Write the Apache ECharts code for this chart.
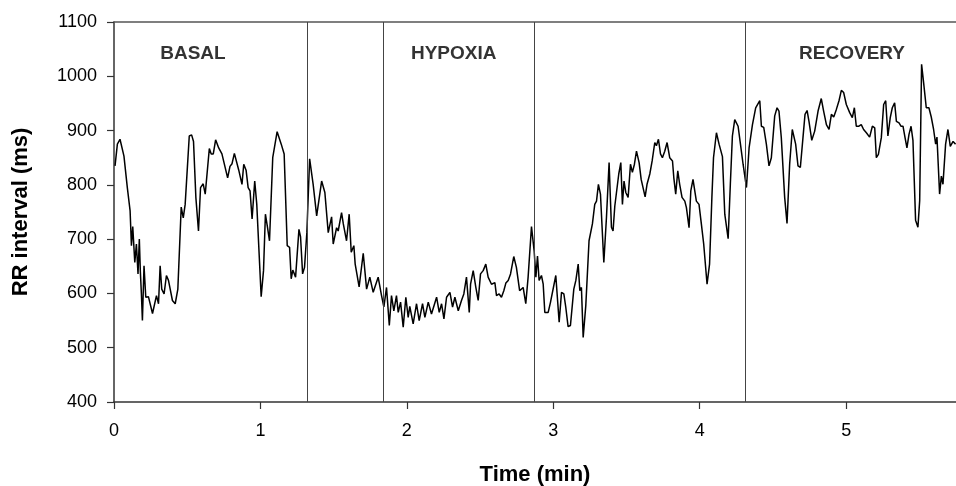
<!DOCTYPE html>
<html>
<head>
<meta charset="utf-8">
<script src="https://cdn.jsdelivr.net/npm/echarts@6/dist/echarts.min.js"></script>
<style>
html,body{margin:0;padding:0;background:#fff;}
#chart{width:956px;height:486px;}
</style>
</head>
<body>
<div id="chart"></div>
<script>
// Time (min) of each RR sample
const timeMin = [
0.007,0.023,0.041,0.068,0.091,0.110,0.119,0.128,0.142,0.153,0.164,0.173,0.180,0.187,0.194,0.205,0.217,0.235,0.263,0.290,
0.304,0.315,0.326,0.342,0.358,0.372,0.399,0.418,0.436,0.459,0.473,0.486,0.514,0.530,0.543,0.559,0.577,0.591,0.609,0.623,
0.651,0.664,0.678,0.694,0.715,0.737,0.776,0.792,0.806,0.822,0.833,0.852,0.874,0.886,0.902,0.916,0.929,0.943,0.961,0.975,
1.005,1.021,1.034,1.048,1.062,1.084,1.114,1.142,1.162,1.183,1.199,1.210,1.221,1.240,1.263,1.274,1.288,1.301,1.317,1.336,
1.360,1.384,1.418,1.440,1.463,1.486,1.497,1.520,1.531,1.554,1.566,1.588,1.606,1.620,1.638,1.647,1.674,1.702,1.725,1.747,
1.770,1.804,1.827,1.843,1.861,1.880,1.895,1.911,1.929,1.941,1.957,1.975,1.993,2.009,2.020,2.043,2.066,2.084,2.107,2.123,
2.146,2.168,2.203,2.221,2.237,2.253,2.271,2.294,2.312,2.328,2.351,2.373,2.389,2.407,2.426,2.435,2.453,2.471,2.487,2.503,
2.521,2.539,2.555,2.578,2.601,2.612,2.630,2.646,2.662,2.676,2.692,2.708,2.730,2.748,2.770,
2.794,2.812,2.828,2.851,2.869,2.881,2.892,2.903,2.919,2.931,2.942,2.965,2.981,2.994,3.017,3.040,3.056,3.072,3.085,3.101,
3.117,3.140,3.154,3.170,3.181,3.192,3.204,3.222,3.233,3.244,3.267,3.283,3.295,3.308,3.322,3.345,3.363,3.381,3.397,3.408,
3.420,3.431,3.447,3.461,3.472,3.483,3.495,3.511,3.527,3.540,3.554,3.568,3.586,3.600,3.613,3.627,3.640,3.659,3.675,3.693,
3.704,3.718,3.732,3.745,3.761,3.777,3.795,3.814,3.823,3.836,3.850,3.863,3.879,3.898,3.909,3.927,3.939,3.954,3.966,3.977,
3.995,4.011,4.027,4.050,4.067,4.083,4.094,4.114,4.132,
4.155,4.171,4.194,4.209,4.223,4.239,4.262,4.278,4.296,4.319,4.337,4.360,4.382,4.410,4.421,4.437,4.455,4.473,4.489,4.512,
4.528,4.541,4.557,4.580,4.596,4.614,4.632,4.641,4.655,4.671,4.687,4.705,4.719,4.733,4.746,4.765,4.785,4.808,4.830,4.846,
4.865,4.883,4.899,4.915,4.933,4.951,4.967,4.983,5.001,5.024,5.042,5.056,5.069,5.087,5.103,5.119,5.138,5.160,5.179,5.195,
5.206,5.220,5.240,5.256,5.270,5.285,5.301,5.315,5.331,5.343,5.361,5.374,5.388,5.402,5.415,5.429,5.443,5.456,5.474,5.490,
5.502,5.515,5.529,5.547,5.565,5.581,5.597,5.611,5.620,5.638,5.650,5.661,5.679,5.695,5.711,5.730,5.747
];
// RR interval (ms) of each sample
const rrMs = [
835,875,884,853,795,752,688,723,657,691,636,700,640,600,550,651,593,594,563,596,
581,651,608,599,633,624,587,581,608,759,739,764,890,892,880,777,715,795,802,783,
867,857,857,883,868,857,813,834,839,858,857,827,801,838,827,795,789,737,807,764,
594,642,746,722,697,850,898,875,857,688,685,627,643,630,718,704,636,648,712,848,
801,743,807,786,712,741,691,721,715,749,728,697,746,676,688,654,612,674,608,630,
602,630,596,575,611,541,596,568,596,565,584,538,593,556,576,544,581,550,581,556,
584,562,593,565,581,553,593,602,575,593,568,587,599,630,565,617,642,611,587,636,
642,654,630,617,620,596,599,593,605,619,624,636,668,648,605,
611,581,630,723,679,630,669,624,633,617,565,565,584,581,633,547,602,599,575,539,
541,608,624,654,605,611,519,578,578,697,728,764,770,801,783,657,740,841,722,715,
761,764,820,841,764,807,786,777,838,823,838,862,841,810,807,778,801,820,844,878,
872,884,857,850,862,878,850,844,813,783,826,801,777,770,758,721,789,810,807,770,
764,728,691,617,654,777,850,896,875,
852,746,701,801,890,920,908,875,838,795,868,911,942,955,908,906,875,835,850,927,
942,936,887,777,729,838,902,900,875,835,832,887,930,937,917,882,899,936,959,936,
911,902,930,925,939,955,974,970,948,933,924,942,908,908,911,902,896,888,908,905,
850,856,887,948,955,890,924,942,951,917,914,908,908,887,868,893,908,882,735,722,
771,1022,988,942,942,925,902,875,888,783,816,801,875,902,871,880,875
];
// Phase boundaries (min) and phase labels
const phaseBounds = [1.318, 1.836, 2.870, 4.310];
const phaseNames = ['BASAL', 'HYPOXIA', 'RECOVERY'];
const phaseLabelTime = [0.539, 2.320, 5.040];
const phaseLabelRR = [1041, 1041, 1041];
// Axis ticks
const xTicks = [0, 1, 2, 3, 4, 5];
const yTicks = [400, 500, 600, 700, 800, 900, 1000, 1100];

const lineData = timeMin.map((t, i) => [t, rrMs[i]]);
const labelData = phaseNames.map((n, i) => ({ value: [phaseLabelTime[i], phaseLabelRR[i]], name: n }));

const chart = echarts.init(document.getElementById('chart'), null, { renderer: 'canvas' });
const axisCol = '#333';
const FONT = 'Liberation Sans, Arial, sans-serif';
chart.setOption({
  backgroundColor: '#fff',
  animation: false,
  grid: { left: 114, right: 0, top: 22, bottom: 84, containLabel: false, outerBoundsMode: 'none' },
  xAxis: [{
    type: 'value', min: xTicks[0], max: 5.75, interval: 1,
    name: 'Time (min)', nameLocation: 'middle', nameGap: 62,
    nameTextStyle: { fontFamily: FONT, fontWeight: 'bold', fontSize: 22, color: '#000' },
    axisLine: { show: true, onZero: false, lineStyle: { color: axisCol, width: 1.5 } },
    axisTick: { show: true, inside: false, length: 7, customValues: xTicks, lineStyle: { color: axisCol, width: 1.2 } },
    axisLabel: { margin: 20, fontFamily: FONT, fontSize: 18, color: '#000', customValues: xTicks,
      formatter: v => String(v) },
    splitLine: { show: false }
  }, {
    type: 'value', min: xTicks[0], max: 5.75, position: 'top',
    axisLine: { show: true, onZero: false, lineStyle: { color: '#555', width: 1.5 } },
    axisTick: { show: false }, axisLabel: { show: false }, splitLine: { show: false }
  }],
  yAxis: {
    type: 'value', min: yTicks[0], max: yTicks[yTicks.length - 1], interval: 100,
    name: 'RR interval (ms)', nameLocation: 'middle', nameGap: 82, nameRotate: 90,
    nameTextStyle: { fontFamily: FONT, fontWeight: 'bold', fontSize: 22, color: '#000' },
    axisLine: { show: true, onZero: false, lineStyle: { color: axisCol, width: 1.5 } },
    axisTick: { show: true, inside: false, length: 7, lineStyle: { color: axisCol, width: 1.2 } },
    axisLabel: { margin: 17, fontFamily: FONT, fontSize: 18, color: '#000', formatter: v => String(v) },
    splitLine: { show: false }
  },
  series: [{
    type: 'line',
    data: lineData,
    showSymbol: false,
    symbol: 'none',
    lineStyle: { color: '#000', width: 1.5 },
    markLine: {
      silent: true, symbol: 'none', animation: false,
      label: { show: false },
      lineStyle: { type: 'solid', color: '#444', width: 1 },
      data: phaseBounds.map(b => ({ xAxis: b }))
    }
  }, {
    type: 'scatter',
    data: labelData,
    symbolSize: 1,
    itemStyle: { color: 'rgba(0,0,0,0)' },
    silent: true,
    label: {
      show: true, position: 'inside', formatter: p => p.name,
      fontFamily: FONT, fontWeight: 'bold', fontSize: 19, color: '#000'
    }
  }]
});
</script>
</body>
</html>
